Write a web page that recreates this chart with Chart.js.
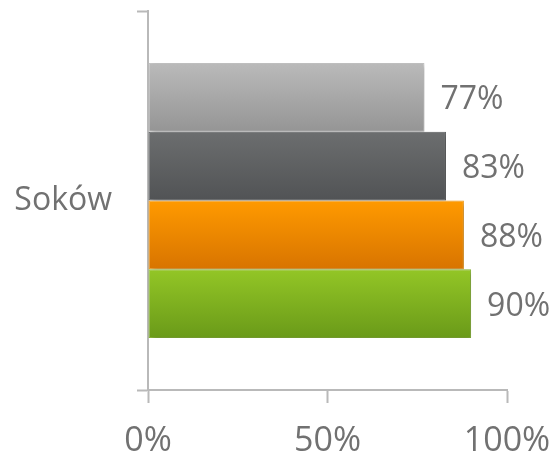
<!DOCTYPE html>
<html>
<head>
<meta charset="utf-8">
<script src="https://cdn.jsdelivr.net/npm/chart.js@4.4.1/dist/chart.umd.min.js"></script>
<style>
  html, body { margin: 0; padding: 0; background: #ffffff; }
  #wrap { width: 558px; height: 460px; }
</style>
</head>
<body>
<div id="wrap"><canvas id="chart"></canvas></div>
<script>
// --- Data ---
const categories = ['Soków'];
const seriesValues = [77, 83, 88, 90];
const xTickValues = [0, 50, 100];

// --- Styles (top / bottom of each bar gradient, border) ---
const barTopColors = ['#bababa', '#6c6e6f', '#ff9a00', '#93c626'];
const barBottomColors = ['#959595', '#515355', '#d87400', '#6a9a19'];
const barBorderColors = ['#c4c4c4', '#5e6062', '#f7a11c', '#8ab936'];
const axisColor = '#b9b9b9';
const textColor = '#717171';
const CATEGORY_PCT = 0.7256;

function barGradient(index) {
    return (context) => {
        const chart = context.chart;
        const area = chart.chartArea;
        if (!area) return barTopColors[index];
        const center = chart.scales.y.getPixelForValue(0);
        const slot = (area.bottom - area.top) * CATEGORY_PCT / seriesValues.length;
        const top = center - slot * seriesValues.length / 2 + index * slot;
        const g = chart.ctx.createLinearGradient(0, top, 0, top + slot);
        g.addColorStop(0, barTopColors[index]);
        g.addColorStop(1, barBottomColors[index]);
        return g;
    };
}

// Soft shadow behind the bars
const barShadow = {
    id: 'barShadow',
    beforeDatasetsDraw(chart) {
        const ctx = chart.ctx;
        ctx.save();
        ctx.shadowColor = 'rgba(0, 0, 0, 0.28)';
        ctx.shadowBlur = 5;
        ctx.shadowOffsetX = 2;
        ctx.shadowOffsetY = 2;
    },
    afterDatasetsDraw(chart) {
        chart.ctx.restore();
    }
};

// Value labels right of each bar
const valueLabels = {
    id: 'valueLabels',
    afterDatasetsDraw(chart) {
        const ctx = chart.ctx;
        ctx.save();
        ctx.font = '32px "Open Sans"';
        ctx.fillStyle = textColor;
        ctx.textAlign = 'left';
        ctx.textBaseline = 'middle';
        chart.data.datasets.forEach((ds, i) => {
            chart.getDatasetMeta(i).data.forEach((el, j) => {
                ctx.fillText(ds.data[j] + '%', el.x + 16, el.y + 3);
            });
        });
        ctx.restore();
    }
};

const datasets = seriesValues.map((v, i) => ({
    label: 'S' + (i + 1),
    data: [v],
    backgroundColor: barGradient(i),
    borderColor: barBorderColors[i],
    borderWidth: 1,
    borderSkipped: false,
    categoryPercentage: CATEGORY_PCT,
    barPercentage: 1
}));

new Chart(document.getElementById('chart'), {
    type: 'bar',
    data: { labels: categories, datasets: datasets },
    plugins: [barShadow, valueLabels],
    options: {
        indexAxis: 'y',
        responsive: true,
        maintainAspectRatio: false,
        animation: false,
        layout: { padding: { top: 11, right: 51, left: 0, bottom: 0 } },
        plugins: {
            legend: { display: false },
            tooltip: { enabled: false }
        },
        scales: {
            x: {
                min: 0,
                max: 100,
                afterBuildTicks: (scale) => {
                    scale.ticks = xTickValues.map(v => ({ value: v }));
                },
                afterFit: (scale) => {
                    scale.height = 70;
                    scale.paddingLeft = 0;
                    scale.paddingRight = 0;
                },
                border: { display: true, color: axisColor, width: 2 },
                grid: {
                    drawOnChartArea: false,
                    drawTicks: true,
                    tickLength: 13,
                    tickColor: axisColor,
                    tickWidth: 2
                },
                ticks: {
                    color: textColor,
                    font: { family: 'Open Sans', size: 34 },
                    padding: 18,
                    maxRotation: 0,
                    autoSkip: false,
                    callback: (v) => v + '%'
                }
            },
            y: {
                afterFit: (scale) => {
                    scale.width = 148;
                    scale.paddingTop = 0;
                    scale.paddingBottom = 0;
                },
                border: { display: true, color: axisColor, width: 2 },
                grid: {
                    drawOnChartArea: false,
                    drawTicks: true,
                    offset: true,
                    tickLength: 11,
                    tickColor: axisColor,
                    tickWidth: 2
                },
                ticks: {
                    color: textColor,
                    font: { family: 'Open Sans', size: 32 },
                    padding: 25
                }
            }
        }
    }
});
</script>
</body>
</html>
